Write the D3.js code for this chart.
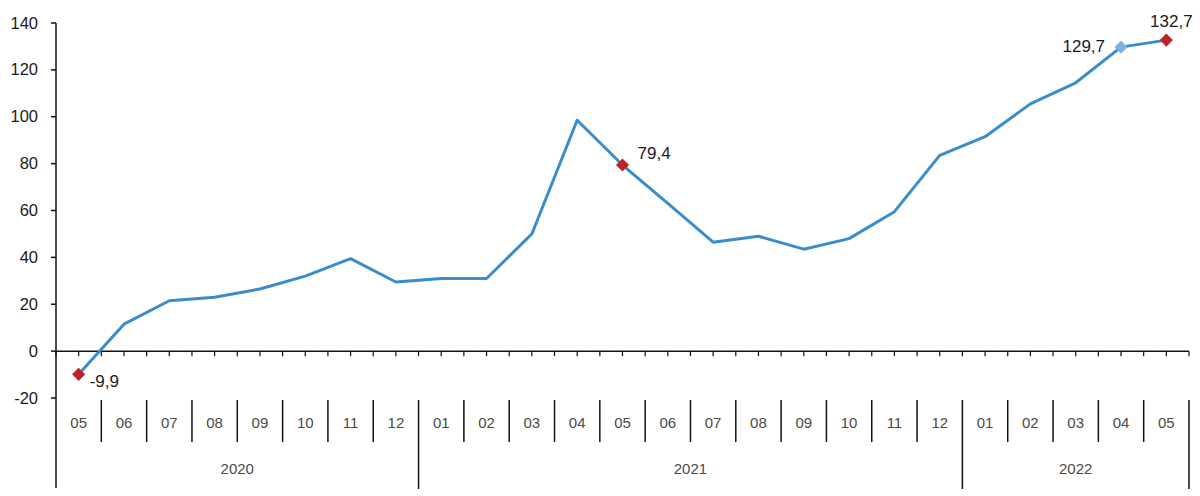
<!DOCTYPE html>
<html lang="en">
<head>
<meta charset="UTF-8">
<title>Index chart</title>
<script src="https://cdnjs.cloudflare.com/ajax/libs/d3/7.8.5/d3.min.js"></script>
<style>
    body { margin: 0; background: #fff; }
    svg { display: block; font-family: "Liberation Sans", Arial, sans-serif; }
</style>
</head>
<body>
<svg width="1200" height="496"></svg>
<script>
    const months = ["05","06","07","08","09","10","11","12",
                    "01","02","03","04","05","06","07","08","09","10","11","12",
                    "01","02","03","04","05"];
    const years = [
        { label: "2020", from: 0, to: 8 },
        { label: "2021", from: 8, to: 20 },
        { label: "2022", from: 20, to: 25 }
    ];
    const values = [-9.9, 11.5, 21.5, 23, 26.5, 32, 39.5, 29.5,
                    31, 31, 50, 98.5, 79.4, 63, 46.5, 49, 43.5, 48, 59.5, 83.5,
                    91.5, 105.5, 114.5, 129.7, 132.7];
    const yTicks = [-20, 0, 20, 40, 60, 80, 100, 120, 140];
    // highlighted points: index, label, marker colour, label placement
    const callouts = [
        { i: 0, text: "-9,9", color: "#b8242a", dx: 11, dy: 13, anchor: "start" },
        { i: 12, text: "79,4", color: "#b8242a", dx: 15, dy: -6, anchor: "start" },
        { i: 23, text: "129,7", color: "#7fb2e0", dx: -16, dy: 5, anchor: "end" },
        { i: 24, text: "132,7", color: "#b8242a", dx: 5, dy: -13, anchor: "middle" }
    ];

    const svg = d3.select("svg");
    const left = 56, right = 1189;

    const x = d3.scaleBand().domain(d3.range(months.length)).range([left, right]);
    const y = d3.scaleLinear().domain([-20, 140]).range([398, 23]);
    const cx = i => x(i) + x.bandwidth() / 2;

    // y axis
    svg.append("line")
        .attr("x1", left).attr("x2", left)
        .attr("y1", y(140)).attr("y2", 488)
        .attr("stroke", "#111").attr("stroke-width", 1.5);

    const yt = svg.append("g").selectAll("g").data(yTicks).enter().append("g");
    yt.append("line")
        .attr("x1", left - 5).attr("x2", left)
        .attr("y1", d => y(d)).attr("y2", d => y(d))
        .attr("stroke", "#111").attr("stroke-width", 1.5);
    yt.append("text")
        .attr("x", left - 18).attr("y", d => y(d) + 5.5)
        .attr("text-anchor", "end")
        .attr("font-size", 16.5).attr("fill", "#1a1a1a")
        .text(d => d);

    // zero line with small ticks
    svg.append("line")
        .attr("x1", left).attr("x2", right)
        .attr("y1", y(0)).attr("y2", y(0))
        .attr("stroke", "#111").attr("stroke-width", 1.5);
    const halfTicks = d3.range(months.length * 2 + 1).map(k => left + k * x.bandwidth() / 2);
    svg.append("g").selectAll("line").data(halfTicks).enter().append("line")
        .attr("x1", d => d).attr("x2", d => d)
        .attr("y1", y(0)).attr("y2", y(0) + 5)
        .attr("stroke", "#111").attr("stroke-width", 1.2);

    // month separators and labels
    const bounds = d3.range(1, months.length + 1).map(i => left + i * x.bandwidth());
    const yearStarts = years.map(d => d.from).concat([months.length]);
    svg.append("g").selectAll("line").data(bounds).enter().append("line")
        .attr("x1", d => d).attr("x2", d => d)
        .attr("y1", 400)
        .attr("y2", (d, k) => yearStarts.includes(k + 1) ? 489 : 442)
        .attr("stroke", "#111").attr("stroke-width", 1.5);

    svg.append("g").selectAll("text").data(months).enter().append("text")
        .attr("x", (d, i) => cx(i)).attr("y", 428)
        .attr("text-anchor", "middle")
        .attr("font-size", 15).attr("fill", "#4a4a4a")
        .text(d => d);

    svg.append("g").selectAll("text").data(years).enter().append("text")
        .attr("x", d => (left + d.from * x.bandwidth() + left + d.to * x.bandwidth()) / 2)
        .attr("y", 474)
        .attr("text-anchor", "middle")
        .attr("font-size", 15).attr("fill", "#4a4a4a")
        .text(d => d.label);

    // series line
    const line = d3.line().x((d, i) => cx(i)).y(d => y(d));
    svg.append("path")
        .datum(values)
        .attr("d", line)
        .attr("fill", "none")
        .attr("stroke", "#3a8ccb")
        .attr("stroke-width", 3)
        .attr("stroke-linejoin", "round");

    // markers and value labels
    const cg = svg.append("g").selectAll("g").data(callouts).enter().append("g");
    cg.append("path")
        .attr("d", d3.symbol().type(d3.symbolDiamond2).size(110))
        .attr("transform", d => `translate(${cx(d.i)},${y(values[d.i])})`)
        .attr("fill", d => d.color);
    cg.append("text")
        .attr("x", d => cx(d.i) + d.dx)
        .attr("y", d => y(values[d.i]) + d.dy)
        .attr("text-anchor", d => d.anchor)
        .attr("font-size", 17).attr("fill", "#1a1a1a")
        .text(d => d.text);
</script>
</body>
</html>
